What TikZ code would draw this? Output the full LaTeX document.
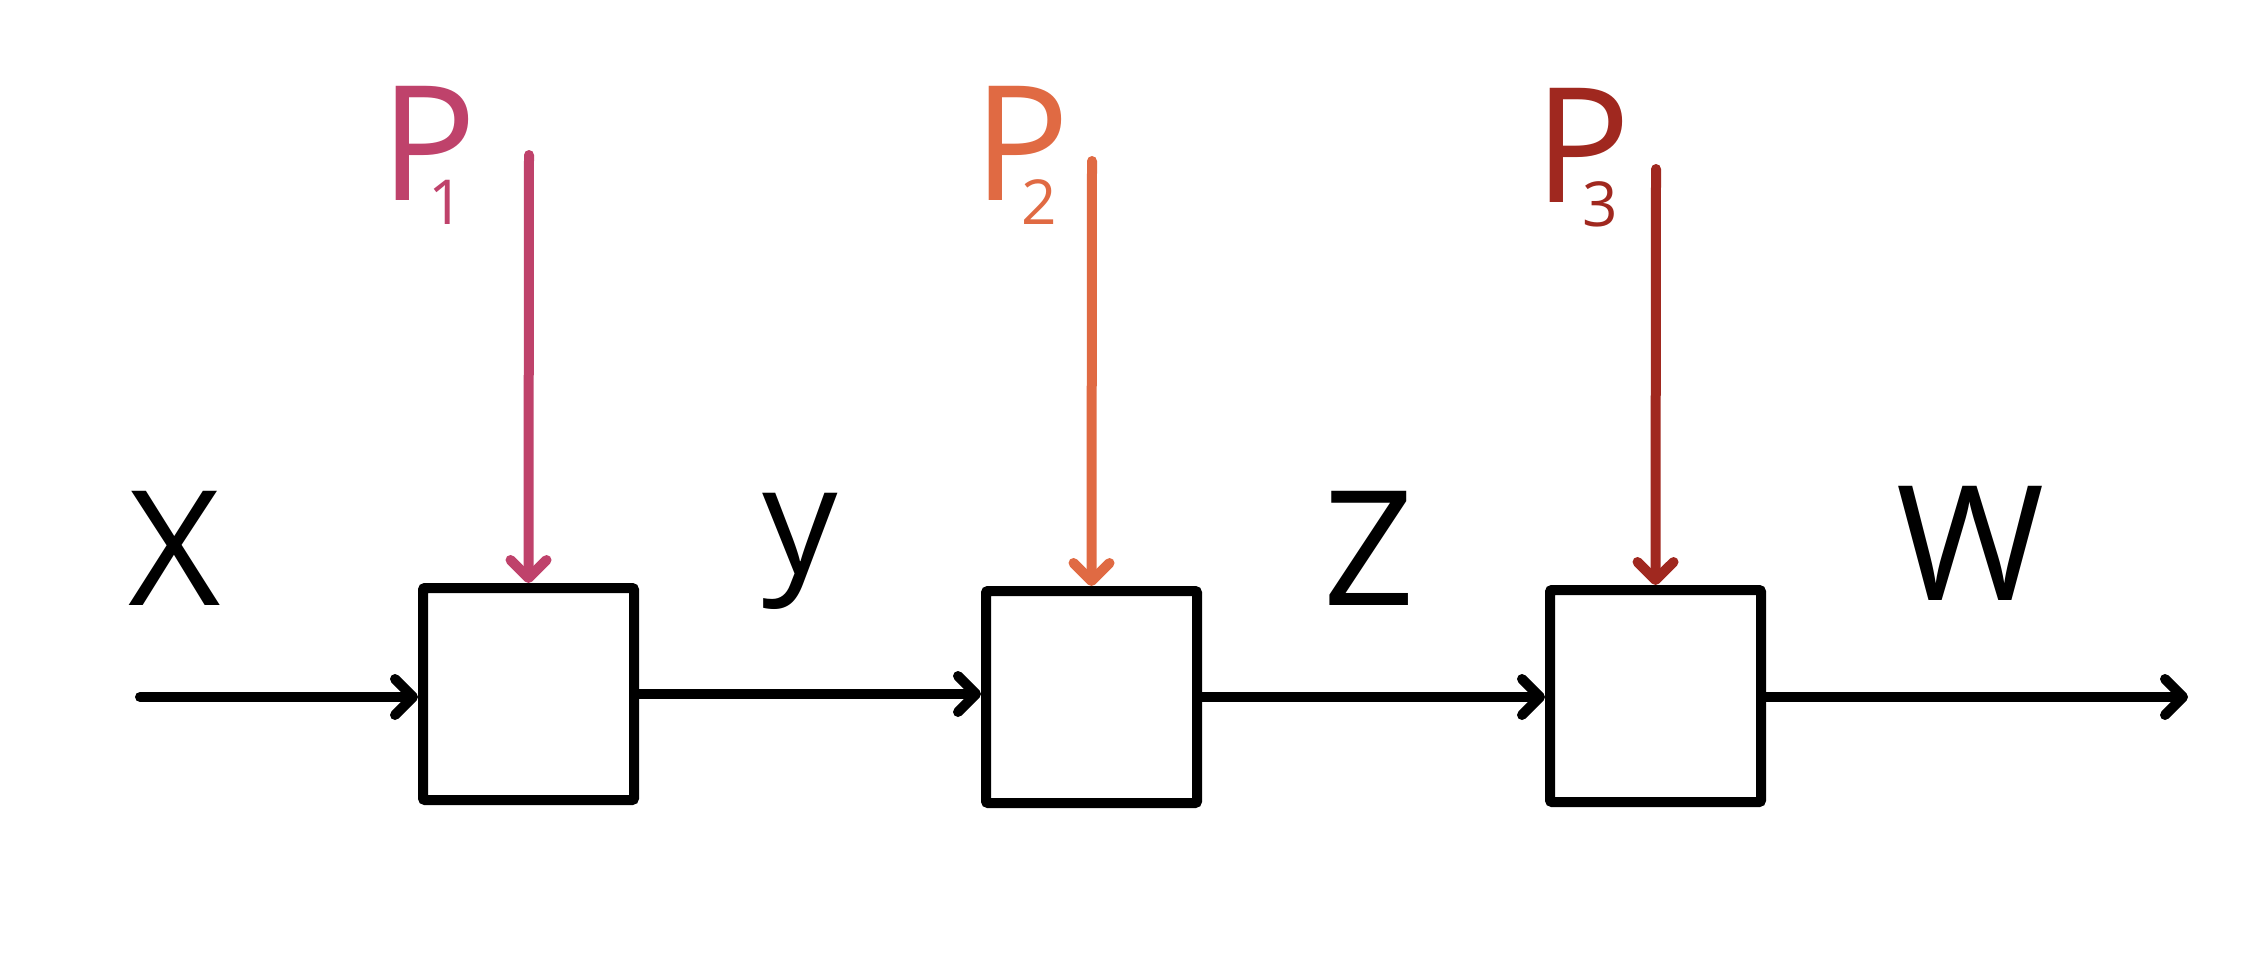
\documentclass[tikz,border=0pt]{standalone}
\usepackage{fontspec}
\setmainfont{Open Sans}
\usetikzlibrary{arrows.meta}
\definecolor{cpink}{RGB}{191,66,107}
\definecolor{corange}{RGB}{224,106,67}
\definecolor{cdred}{RGB}{160,40,31}
\tikzset{
  blk/.style={draw=black, line width=10pt, minimum width=211pt, minimum height=212pt, inner sep=0pt, rounded corners=2pt},
  sig/.style={line width=10pt, line cap=round, -{Straight Barb[length=18pt, width=36pt, line width=10pt, round]}},
  lbl/.style={font=\fontsize{160}{160}\selectfont, inner sep=0pt, anchor=base},
  plbl/.style={font=\fontsize{160}{160}\selectfont, inner sep=0pt, anchor=base west},
}
\newcommand{\subsc}[1]{\kern-48pt\raisebox{-24pt}{\fontsize{62}{62}\selectfont #1}}
\begin{document}
\begin{tikzpicture}[x=1pt, y=-1pt]
\useasboundingbox (0,0) rectangle (2248,972);
% blocks
\node[blk] (b1) at (528.5,694) {};
\node[blk] (b2) at (1091.5,697) {};
\node[blk] (b3) at (1655.5,696) {};
% signal coordinates
\coordinate (in) at (140,697);
\coordinate (out) at (2188,697);
\coordinate (p1t) at (529,155);
\coordinate (p2t) at (1092,161);
\coordinate (p3t) at (1656,169);
% main connectors
\draw[sig] (in) -- (b1.west |- in);
\draw[sig] (b1.east) -- (b2.west |- b1.east);
\draw[sig] (b2.east) -- (b3.west |- b2.east);
\draw[sig] (b3.east |- out) -- (out);
% disturbance arrows
\draw[sig, cpink] (p1t) -- (b1.north);
\draw[sig, corange] (p2t) -- (b2.north);
\draw[sig, cdred] (p3t) -- (b3.north);
% labels
\node[lbl] (lx) at (175,605) {X};
\node[lbl, font=\fontsize{150}{150}\selectfont] (ly) at (800,573) {y};
\node[lbl] (lz) at (1369,605) {Z};
\node[lbl] (lw) at (1971,600) {W};
\node[plbl, text=cpink] (lp1) at (380,200) {P\subsc{1}};
\node[plbl, text=corange] (lp2) at (973,200) {P\subsc{2}};
\node[plbl, text=cdred] (lp3) at (1534,202) {P\subsc{3}};
\end{tikzpicture}
\end{document}
